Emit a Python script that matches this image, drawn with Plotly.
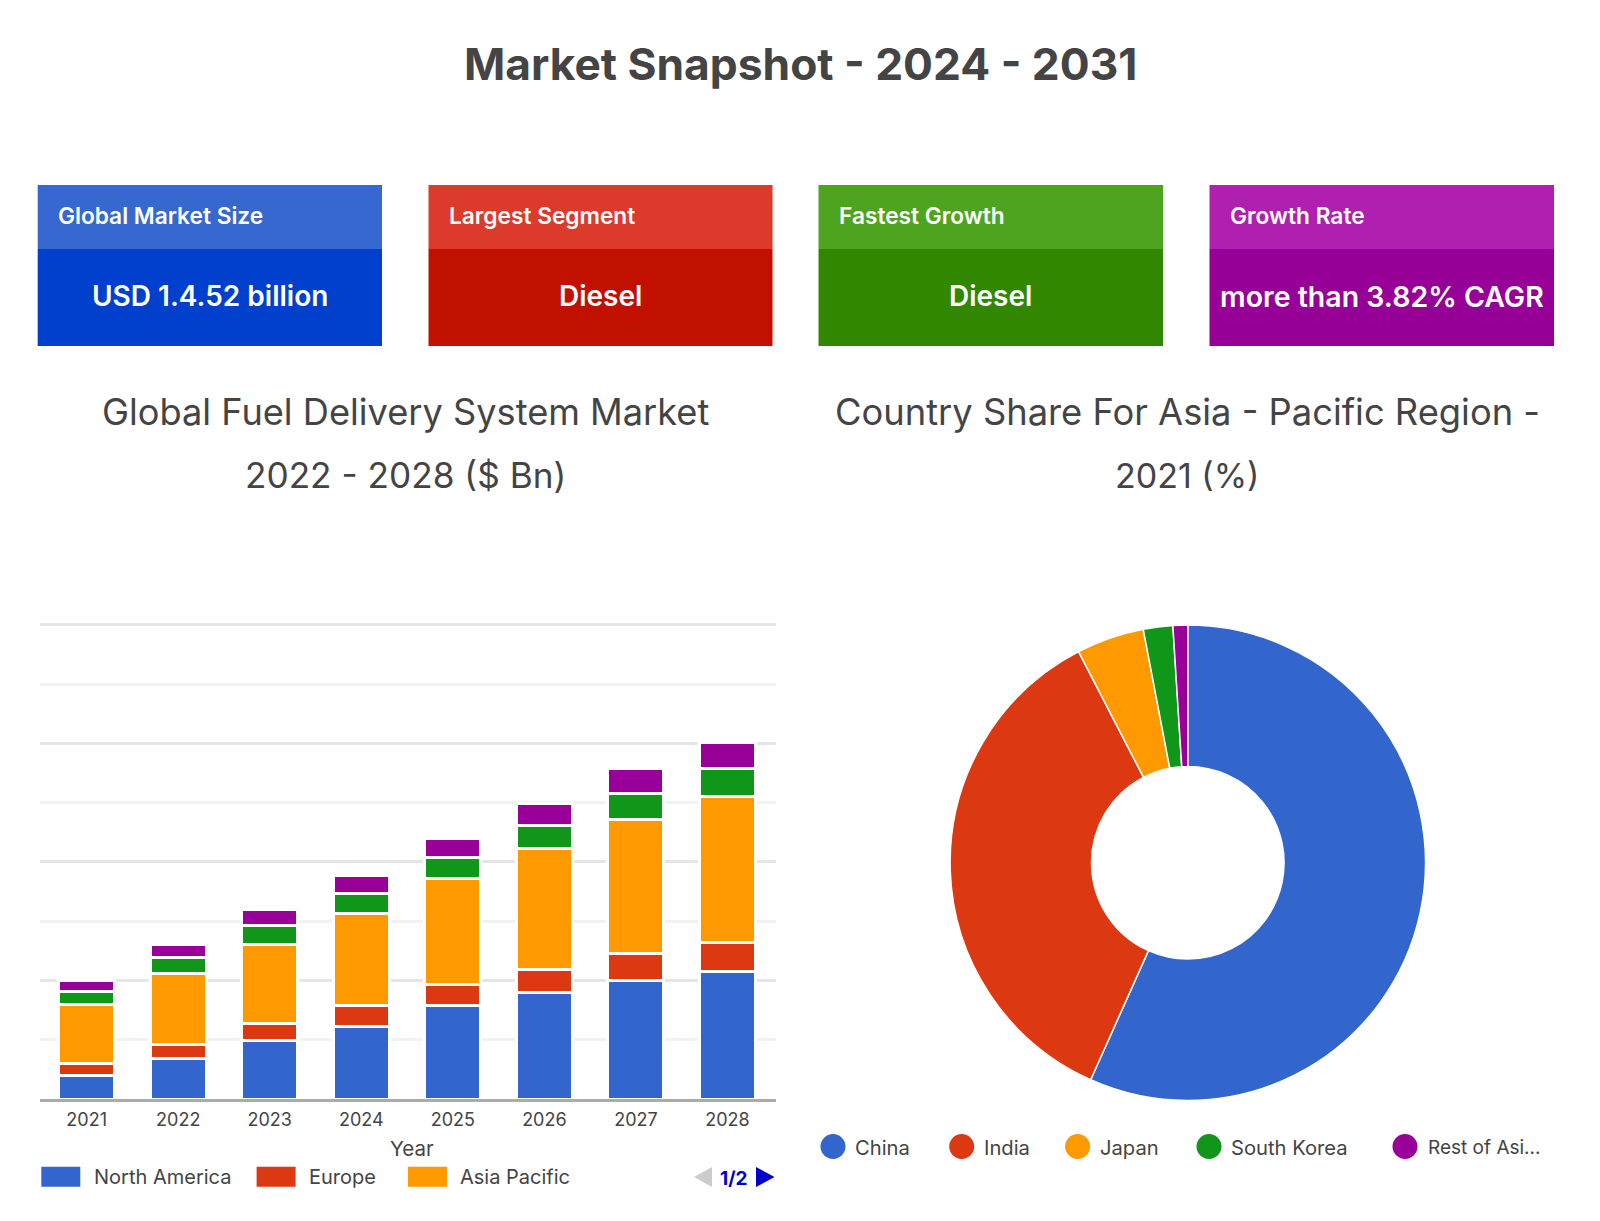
import plotly.graph_objects as go

W, H = 1600, 1221
FONT = "Inter, 'Open Sans', sans-serif"
INK = "#444444"

years = ["2021", "2022", "2023", "2024", "2025", "2026", "2027", "2028"]
north_america = [0.39, 0.69, 0.98, 1.23, 1.58, 1.79, 2.00, 2.16]
europe = [0.21, 0.23, 0.29, 0.34, 0.35, 0.39, 0.45, 0.48]
asia_pacific = [1.00, 1.20, 1.33, 1.56, 1.79, 2.04, 2.27, 2.46]
south_korea_bar = [0.21, 0.27, 0.33, 0.33, 0.35, 0.40, 0.44, 0.47]
rest_bar = [0.19, 0.22, 0.27, 0.32, 0.32, 0.36, 0.41, 0.45]

countries = ["China", "India", "Japan", "South Korea", "Rest of Asia"]
country_share = [56.7, 35.7, 4.6, 2.0, 1.0]
country_legend = ["China", "India", "Japan", "South Korea", "Rest of Asi..."]

BLUE, RED, ORANGE, GREEN, PURPLE = "#3366CC", "#DC3912", "#FF9900", "#109618", "#990099"

cards_head = ["Global Market Size", "Largest Segment", "Fastest Growth", "Growth Rate"]
cards_value = ["USD 1.4.52 billion", "Diesel", "Diesel", "more than 3.82% CAGR"]
cards_top = ["#3668D0", "#DC3A2A", "#4EA41E", "#B020B0"]
cards_body = ["#0040CC", "#C21000", "#318700", "#960096"]
cards_x = [(37.7, 382), (428.5, 772.5), (818.5, 1163), (1209.5, 1554)]
cards_value_size = [28, 28, 28, 28.5]


def px(x):
    return x / W


def py(y):
    return 1 - y / H


fig = go.Figure()
for name, vals, col in [("North America", north_america, BLUE), ("Europe", europe, RED),
                        ("Asia Pacific", asia_pacific, ORANGE), ("South Korea", south_korea_bar, GREEN),
                        ("Rest of Asia", rest_bar, PURPLE)]:
    fig.add_trace(go.Bar(x=years, y=vals, name=name, marker=dict(color=col, line=dict(color="white", width=3)),
                         showlegend=False))

fig.add_trace(go.Pie(labels=countries, values=country_share, sort=False, direction="clockwise", rotation=0,
                     hole=0.405, textinfo="none", showlegend=False,
                     marker=dict(colors=[BLUE, RED, ORANGE, GREEN, PURPLE], line=dict(color="white", width=1.5)),
                     domain=dict(x=[px(1187.8 - 237.7), px(1187.8 + 237.7)], y=[py(862.8 + 237.7), py(862.8 - 237.7)])))

shapes, ann = [], []


def rect(x0, y0, x1, y1, col, kind="rect"):
    shapes.append(dict(type=kind, xref="paper", yref="paper", x0=px(x0), x1=px(x1), y0=py(y1), y1=py(y0),
                       fillcolor=col, line=dict(width=0), layer="above"))


def tri(pts, col):
    path = "M " + " L ".join(f"{px(a)},{py(b)}" for a, b in pts) + " Z"
    shapes.append(dict(type="path", xref="paper", yref="paper", path=path, fillcolor=col, line=dict(width=0)))


def text(x, y, s, size, col=INK, anchor="center", weight=400):
    ann.append(dict(xref="paper", yref="paper", x=px(x), y=py(y), text=s, showarrow=False, xanchor=anchor,
                    yanchor="middle", font=dict(family=FONT, size=size, color=col, weight=weight)))


text(800, 64, "Market Snapshot - 2024 - 2031", 44.3, weight=700)

for (x0, x1), head, val, c1, c2, vs in zip(cards_x, cards_head, cards_value, cards_top, cards_body, cards_value_size):
    rect(x0, 185, x1, 249, c1)
    rect(x0, 249, x1, 346, c2)
    text(x0 + 18.5, 215.5, head, 22.7, "white", "left", 600)
    text((x0 + x1) / 2, 296, val, vs, "white", "center", 600)

text(405, 412, "Global Fuel Delivery System Market", 36.2)
text(405, 475.5, "2022 - 2028 ($ Bn)", 35.2)
text(1187, 412, "Country Share For Asia - Pacific Region -", 36.3)
text(1187, 475.5, "2021 (%)", 34)

text(411.7, 1148, "Year", 20.5)

bar_legend = [("North America", BLUE, 41.3, 91.5), ("Europe", RED, 256.6, 306.5), ("Asia Pacific", ORANGE, 408, 457.7)]
for label, col, sx, tx in bar_legend:
    rect(sx, 1166.7, sx + 39, 1186.7, col)
    text(tx, 1177, label, 20, anchor="left")
tri([(712, 1167), (712, 1187), (694, 1177)], "#CCCCCC")
text(734, 1178, "1/2", 19, "#0000CC", weight=700)
tri([(756, 1167), (756, 1187), (774.5, 1177)], "#0000CC")

pie_cx = [833, 961.7, 1077.6, 1209, 1405]
pie_tx = [852.5, 981.5, 1098, 1229, 1426]
pie_text_size = [20.2, 20.2, 20.2, 20.2, 19]
for label, col, cx, tx, ts in zip(country_legend, [BLUE, RED, ORANGE, GREEN, PURPLE], pie_cx, pie_tx, pie_text_size):
    rect(cx - 12.5, 1134, cx + 12.5, 1159, col, "circle")
    text(tx, 1147, label, ts, anchor="left")

fig.update_layout(
    width=W, height=H, margin=dict(l=0, r=0, t=0, b=0), paper_bgcolor="white", plot_bgcolor="white",
    barmode="stack", bargap=0.388, shapes=shapes, annotations=ann, font=dict(family=FONT, color=INK),
    xaxis=dict(domain=[px(39.8), px(775.5)], type="category", range=[-0.512, 7.525], showgrid=False, showline=True,
               linecolor="#ABABAB", linewidth=3, ticks="outside", ticklen=2, tickcolor="rgba(0,0,0,0)",
               tickfont=dict(size=18, color=INK), fixedrange=True),
    yaxis=dict(domain=[py(1099), py(623.2)], range=[0, 8.03], dtick=2, showticklabels=False, showline=False,
               showgrid=True, gridcolor="#E6E6E6", gridwidth=3, zeroline=False, ticks="",
               minor=dict(dtick=1, showgrid=True, gridcolor="#F2F2F2", gridwidth=3), fixedrange=True),
)

fig.write_html("out.html", config=dict(displayModeBar=False),
               post_script="document.body.style.margin='0';document.body.style.overflow='hidden';")
